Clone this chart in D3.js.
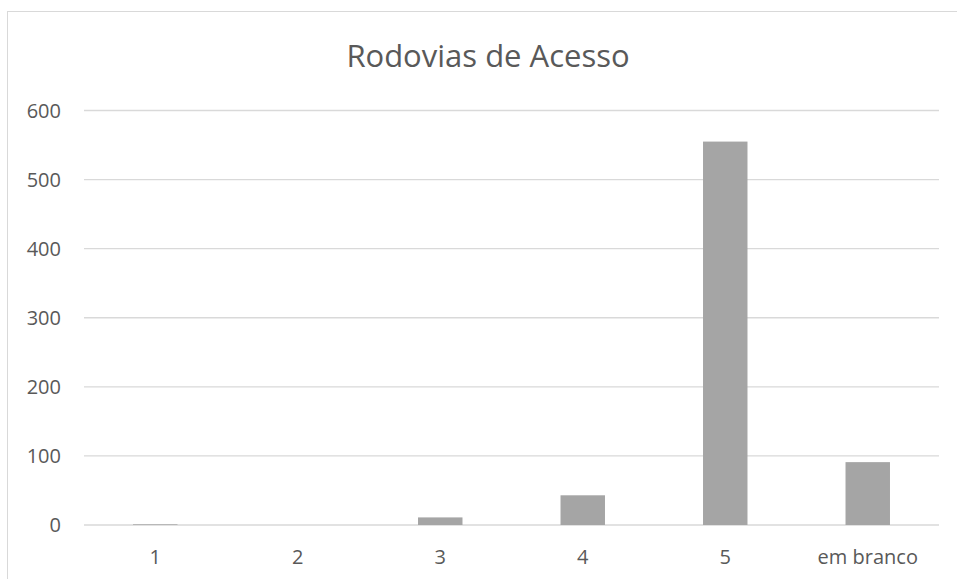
<!DOCTYPE html>
<html>
<head>
<meta charset="utf-8">
<script src="https://cdn.jsdelivr.net/npm/d3@7"></script>
<style>
  body { margin: 0; background: #fff; }
  text { font-family: "Open Sans", sans-serif; fill: #595959; }
</style>
</head>
<body>
<svg id="svg" width="957" height="579"></svg>
<script>
// data
const categories = ['1', '2', '3', '4', '5', 'em branco'];
const values = [1, 0, 11, 43, 555, 91];
const yTicks = [0, 100, 200, 300, 400, 500, 600];
const title = 'Rodovias de Acesso';

const svg = d3.select('#svg');
const plot = {left: 84, right: 939, top: 110.5, bottom: 525};

// chart frame
svg.append('rect')
  .attr('x', 7.5).attr('y', 11.5)
  .attr('width', 1000).attr('height', 1000)
  .attr('fill', 'none')
  .attr('stroke', '#d9d9d9');

const x = d3.scaleBand()
  .domain(categories)
  .range([plot.left, plot.right])
  .paddingInner(0.688)
  .paddingOuter(0.344);

const y = d3.scaleLinear()
  .domain([0, 600])
  .range([plot.bottom, plot.top]);

// gridlines
svg.append('g')
  .selectAll('line')
  .data(yTicks)
  .enter()
  .append('line')
  .attr('x1', plot.left).attr('x2', plot.right)
  .attr('y1', d => y(d)).attr('y2', d => y(d))
  .attr('stroke', '#d9d9d9')
  .attr('stroke-width', 1.3);

// y labels
svg.append('g')
  .selectAll('text')
  .data(yTicks)
  .enter()
  .append('text')
  .attr('x', 61)
  .attr('y', d => y(d))
  .attr('dy', '0.35em')
  .attr('text-anchor', 'end')
  .style('font-size', '20px')
  .text(d => d);

// bars
svg.append('g')
  .selectAll('rect')
  .data(values)
  .enter()
  .append('rect')
  .attr('x', (d, i) => x(categories[i]))
  .attr('width', x.bandwidth())
  .attr('y', d => y(d))
  .attr('height', d => y(0) - y(d))
  .attr('fill', '#a5a5a5');

// category labels
svg.append('g')
  .selectAll('text')
  .data(categories)
  .enter()
  .append('text')
  .attr('x', d => x(d) + x.bandwidth() / 2)
  .attr('y', 564)
  .attr('text-anchor', 'middle')
  .style('font-size', '20px')
  .text(d => d);

svg.append('text')
  .attr('x', 488)
  .attr('y', 67)
  .attr('text-anchor', 'middle')
  .style('font-size', '31px')
  .text(title);
</script>
</body>
</html>
